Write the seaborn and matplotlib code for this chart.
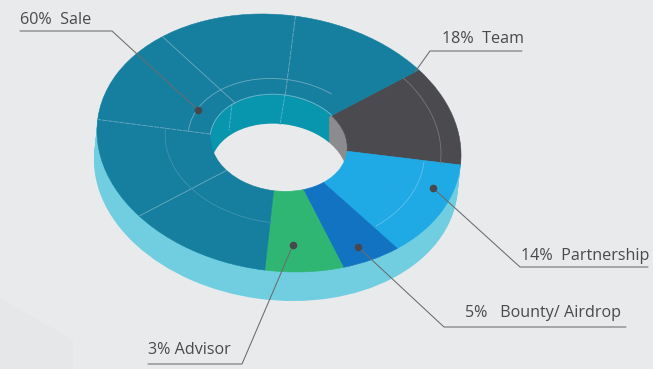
import numpy as np
import matplotlib
matplotlib.use("Agg")
import matplotlib.pyplot as plt
import seaborn as sns
from matplotlib.transforms import Affine2D

# Slice sizes as drawn in the picture (the printed labels do not match the drawn angles)
slices = ["Team", "Partnership", "Bounty", "Advisor", "Sale"]
drawn_share = [12.3, 12.5, 5.5, 7.0, 62.7]
slice_colors = ["#4b4b4f", "#1fa9e5", "#1273c2", "#2fb673", "#167f9f"]
wall_share = [25, 75]
wall_colors = ["#8c8c8e", "#0796ae"]

labels = ["60%  Sale", "18%  Team", "14%  Partnership", "5%   Bounty/ Airdrop", "3% Advisor"]

BG = "#e9eaec"
SIDE = "#70cee0"
LINE = "#6fa9bf"
TEXT = "#4a4a4c"
START = -45
HOLE = 0.375
DEPTH = 29

sns.set_style("white")
plt.rcParams["font.family"] = ["Open Sans", "DejaVu Sans"]

fig = plt.figure(figsize=(6.53, 3.69), dpi=100, facecolor=BG)
ax = fig.add_axes([0, 0, 1, 1])


def disc_tf(dx=0, dy=0):
    # unit circle -> tilted ellipse in pixel coords
    return Affine2D().scale(182.8, 127.9).rotate_deg(7.4).translate(279 + dx, 143 + dy) + ax.transData


def draw_pie(shares, colors, radius=1.0, width=None, dx=0, dy=0, edge=False):
    props = {"linewidth": 0.4 if edge else 0}
    if width is not None:
        props["width"] = width
    wedges, _ = ax.pie(shares, colors=colors, radius=radius, startangle=START, wedgeprops=props)
    for w in wedges:
        w.set_transform(disc_tf(dx, dy))
        if edge:
            w.set_edgecolor(w.get_facecolor())
    return wedges


def ray(angle, r0, r1, **kw):
    t = np.radians(angle)
    ax.plot([r0 * np.cos(t), r1 * np.cos(t)], [r0 * np.sin(t), r1 * np.sin(t)],
            transform=disc_tf(), solid_capstyle="butt", **kw)


def arc(a0, a1, r, **kw):
    t = np.radians(np.linspace(a0, a1, 80))
    ax.plot(r * np.cos(t), r * np.sin(t), transform=disc_tf(), **kw)


# slightly different panel in the bottom left corner
ax.fill([0, 73, 73, 0], [298, 340, 369, 369], color="#e6e7e9", lw=0)

# outer side of the ring
for d in range(DEPTH, 0, -2):
    draw_pie([1], [SIDE], dx=-3 * d / DEPTH, dy=d)

# inside of the hole: floor, wall, then the floor again seen through it
draw_pie([1], [BG], radius=HOLE)
for d in range(DEPTH, -1, -1):
    draw_pie(wall_share, wall_colors, radius=HOLE, width=0.02, dy=d)
draw_pie([1], [BG], radius=HOLE, dy=DEPTH)

# wall seams
ax.plot([232, 229], [104, 130], color="#55b9cb", lw=0.6, ls=(0, (4, 1)))
ax.plot([285, 280], [95, 125], color="#55b9cb", lw=0.6, ls=(0, (4, 1)))

# top face of the ring
draw_pie(drawn_share, slice_colors, width=1 - HOLE, edge=True)

# thin construction lines on the top face
for a in [-135, 180, 135, -90]:
    ray(a, HOLE, 1.0, color=LINE, lw=0.6, ls=(0, (6, 1)) if a in (180, -90) else "-")
arc(-180, -45, HOLE + 0.003, color="#62b8cc", lw=0.7)
arc(-180, -60, 0.5, color=LINE, lw=0.6)
arc(88, 180, 0.625, color="#3f94b0", lw=0.6)
arc(-45, 0, 0.89, color="#77777b", lw=0.6)
arc(0, 43, 0.8, color="#63c0ee", lw=0.6)

# leader lines and dots
leaders = [
    ([20, 112, 198], [31, 31, 110]),
    ([522, 430, 415], [51, 51, 72]),
    ([433, 520, 648], [188, 267, 267]),
    ([358, 444, 626], [247, 327, 327]),
    ([293, 242, 148], [245, 364, 364]),
]
for xs, ys in leaders:
    ax.plot(xs, ys, color="#6b6b6e", lw=0.75, solid_joinstyle="miter")
sns.scatterplot(x=[198, 433, 358, 293], y=[110, 188, 247, 245], color="#47474d", s=30,
                linewidth=0, ax=ax, legend=False, zorder=5)

label_pos = [(20, 20), (442, 39), (521, 256), (465, 313), (148, 350)]
for txt, (x, y) in zip(labels, label_pos):
    ax.text(x, y, txt, fontsize=11.6, color=TEXT, ha="left", va="center")

ax.set_aspect("auto")
ax.set_xlim(0, 653)
ax.set_ylim(369, 0)
ax.axis("off")

fig.savefig("out.png", dpi=100, facecolor=BG)
plt.close()
